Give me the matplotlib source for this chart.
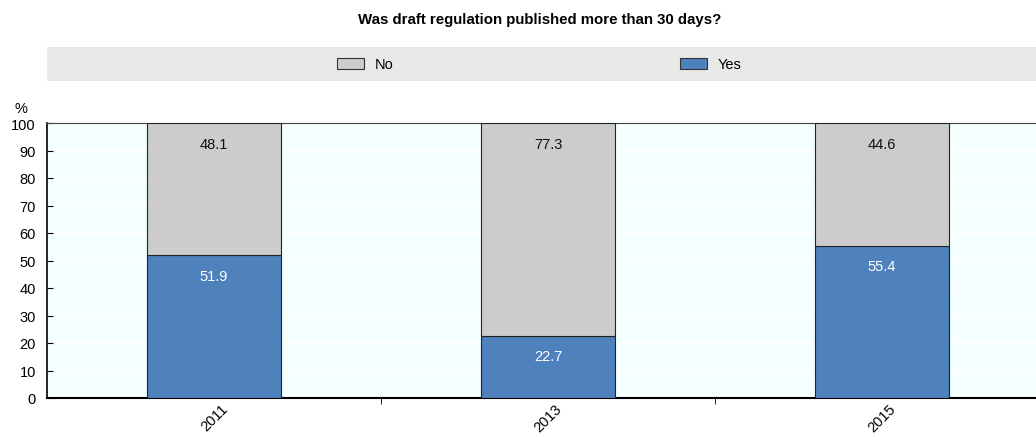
import numpy as np
import matplotlib.pyplot as plt
from matplotlib.patches import Rectangle

plt.rcParams['font.family'] = ['Liberation Sans', 'DejaVu Sans']

years = ['2011', '2013', '2015']
yes_vals = [51.9, 22.7, 55.4]
no_vals = [48.1, 77.3, 44.6]

c_yes = '#4F81BD'
c_no = '#CCCCCC'

fig = plt.figure(figsize=(10.36, 4.35), dpi=100)
ax = fig.add_axes([47/1036, 36/435, 1002/1036, 275/435])
ax.set_facecolor('#F4FFFF')

x = np.arange(len(years))
w = 0.4
ax.bar(x, yes_vals, w, color=c_yes, edgecolor='#222222', linewidth=0.8, zorder=3)
ax.bar(x, no_vals, w, bottom=yes_vals, color=c_no, edgecolor='#222222', linewidth=0.8, zorder=3)

for i in range(len(years)):
    ax.text(x[i], yes_vals[i] - 7.5, f'{yes_vals[i]:.1f}', ha='center', va='center',
            color='white', fontsize=10.5, zorder=4)
    ax.text(x[i], 100 - 7.5, f'{no_vals[i]:.1f}', ha='center', va='center',
            color='#111111', fontsize=10.5, zorder=4)

ax.set_xlim(-0.5, 2.5)
ax.set_ylim(0, 100)
ax.set_yticks(np.arange(0, 101, 10))
ax.yaxis.grid(True, color='white', linewidth=1.2, zorder=0)
ax.set_axisbelow(True)
ax.tick_params(axis='y', direction='in', length=4, labelsize=10.5, pad=8)
ax.set_xticks(x + 0.02)
ax.set_xticklabels(years, rotation=45, ha='right', va='top', rotation_mode='anchor', fontsize=10.5)
ax.tick_params(axis='x', length=0, pad=2)
ax.set_xticks([0.5, 1.5], minor=True)
ax.tick_params(axis='x', which='minor', direction='out', length=4)
ax.spines['left'].set_linewidth(1.2)
ax.spines['bottom'].set_linewidth(1.5)
ax.spines['top'].set_color('#444444')
ax.spines['right'].set_visible(False)

ax.text(-0.02, 1.03, '%', transform=ax.transAxes, ha='right', va='bottom', fontsize=10.5)

fig.text(540/1036, 1 - 20/435, 'Was draft regulation published more than 30 days?',
         ha='center', va='center', fontsize=10.8, fontweight='bold')

band = Rectangle((47/1036, 1 - 82/435), 1 - 47/1036, 34/435, transform=fig.transFigure,
                 facecolor='#E9E9E9', edgecolor='none')
fig.patches.append(band)

for lab, col, px in [('No', c_no, 337), ('Yes', c_yes, 680)]:
    fig.patches.append(Rectangle((px/1036, 1 - 70/435), 27/1036, 11/435,
                                 transform=fig.transFigure, facecolor=col,
                                 edgecolor='#333333', linewidth=0.8))
    fig.text((px + 38)/1036, 1 - 65/435, lab, ha='left', va='center', fontsize=10.5)

fig.savefig('out.png', dpi=100)
